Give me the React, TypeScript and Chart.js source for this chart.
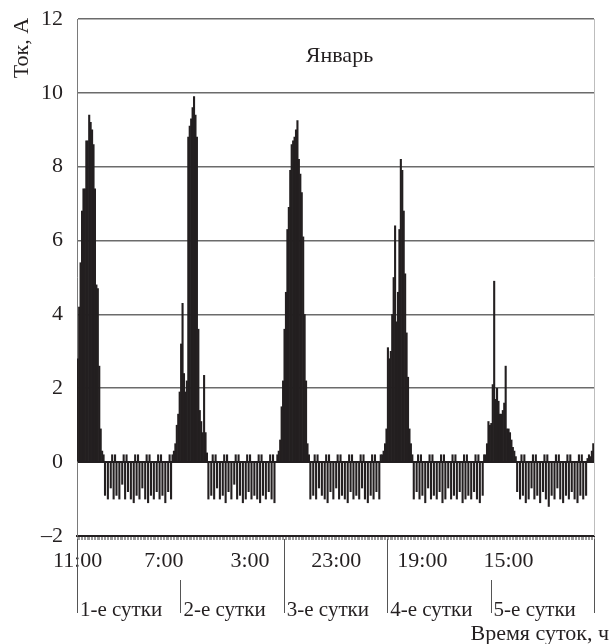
import React, { useEffect, useRef } from 'react';
import { Chart, registerables } from 'chart.js';

Chart.register(...registerables);

// 20-minute samples (3 per hour), starting 11:00 of day 1
const SAMPLES_PER_DAY = 72;
const START_HOUR = 11;
const START_MIN = 0;

const timeTickLabels = ['11:00', '7:00', '3:00', '23:00', '19:00', '15:00'];
const dayLabels = ['1-е сутки', '2-е сутки', '3-е сутки', '4-е сутки', '5-е сутки'];
const longSeparators = [true, false, true, true, false, true];

const day1Current = [
  2.8, 4.2, 5.4, 6.8, 7.4, 7.4, 8.7, 8.7, 9.4, 9.2, 9.0, 8.6, 7.4, 4.8, 4.7, 2.6, 0.9, 0.3, 0.2,
  -0.9, 0, -1.0, 0, -0.7, 0.2, -1.0, 0.2,
  -0.9, 0, -1.0, 0, -0.6, 0.2, -1.0, 0.2,
  -0.8, 0, -1.0, 0, -1.1, 0.2, -0.9, 0.2,
  -1.0, 0, -0.7, 0, -1.0, 0.2, -1.1, 0.2,
  -0.9, 0, -1.0, 0, -0.8, 0.2, -1.0, 0.2,
  -0.9, 0, -1.1, 0, -0.8, 0.2, -1.0, 0.2,
  0.3, 0.5, 1.0, 1.3, 1.9,
];

const day2Current = [
  3.2, 4.3, 2.4, 1.9, 2.2, 8.8, 9.1, 9.3, 9.6, 9.9, 9.4, 8.8, 3.6, 1.4, 1.1, 0.8, 2.35, 0.8, 0.25,
  -1.0, 0, -0.9, 0.2, -1.0, 0.2, -0.7, 0,
  -1.0, 0, -0.9, 0.2, -1.1, 0.2, -0.8, 0,
  -1.0, 0, -0.6, 0.2, -1.0, 0.2, -0.9, 0,
  -1.1, 0, -1.0, 0.2, -0.8, 0.2, -1.0, 0,
  -0.9, 0, -1.0, 0.2, -1.1, 0.2, -0.9, 0,
  -1.0, 0, -0.8, 0.2, -1.0, 0.2, -1.1, 0,
  0.2, 0.3, 0.6, 1.5, 2.2,
];

const day3Current = [
  3.6, 4.6, 6.3, 6.9, 7.9, 8.6, 8.7, 8.8, 9.0, 9.25, 8.2, 7.8, 7.3, 6.1, 4.0, 2.2, 0.5, 0.2,
  -1.0, 0, -0.9, 0.2, -1.0, 0.2, -0.7, 0,
  -0.9, 0, -1.0, 0.2, -1.1, 0.2, -0.8, 0,
  -1.0, 0, -0.7, 0.2, -1.0, 0.2, -0.9, 0,
  -1.0, 0, -1.1, 0.2, -0.8, 0.2, -1.0, 0,
  -0.9, 0, -1.0, 0.2, -0.7, 0.2, -1.0, 0,
  -1.1, 0, -0.9, 0.2, -1.0, 0.2, -0.8, 0,
  -1.0, 0.2,
  0.2, 0.3, 0.5, 0.9,
];

const day4Current = [
  3.1, 2.8, 3.0, 4.0, 5.0, 6.4, 3.8, 4.6, 6.3, 8.2, 7.9, 6.8, 5.1, 3.5, 2.3, 0.9, 0.5, 0.2,
  -1.0, 0, -0.8, 0.2, -1.0, 0.2, -0.9, 0,
  -1.1, 0, -0.7, 0.2, -1.0, 0.2, -0.9, 0,
  -1.0, 0, -0.8, 0.2, -1.1, 0.2, -1.0, 0,
  -0.7, 0, -1.0, 0.2, -0.9, 0.2, -1.0, 0,
  -0.8, 0, -1.1, 0.2, -1.0, 0.2, -0.9, 0,
  -1.0, 0, -0.8, 0.2, -1.0, 0.2, -1.1, 0,
  -0.9, 0.2,
  0.2, 0.5, 1.1, 1.0,
];

const day5Current = [
  1.05, 2.1, 4.9, 1.7, 2.0, 1.65, 1.3, 1.3, 1.4, 1.6, 2.6, 0.9, 0.9, 0.8, 0.6, 0.4, 0.3, 0.15,
  -0.8, 0, -1.0, 0.2, -0.9, 0.2, -1.1, 0,
  -1.0, 0, -0.7, 0.2, -1.0, 0.2, -0.9, 0,
  -1.1, 0, -0.8, 0.2, -1.0, 0.2, -1.2, 0,
  -0.9, 0, -1.0, 0.2, -0.7, 0.2, -1.0, 0,
  -1.1, 0, -0.9, 0.2, -1.0, 0.2, -0.8, 0,
  -1.0, 0, -1.1, 0.2, -0.9, 0.2, -1.0, 0,
  -0.9,
  0.1, 0.2, 0.15, 0.3, 0.5,
];

const current = [...day1Current, ...day2Current, ...day3Current, ...day4Current, ...day5Current];

const SAMPLE_MIN = (24 * 60) / SAMPLES_PER_DAY;
const TICK_EVERY = 60; // every 20 hours
const categories = current.map((_, i) => {
  const total = START_HOUR * 60 + START_MIN + i * SAMPLE_MIN;
  const h = Math.floor(total / 60) % 24;
  const m = total % 60;
  return `${h}:${m < 10 ? '0' + m : m}`;
});

const INK = '#231f20';
const FONT = '"Liberation Serif", "Times New Roman", serif';

const decorPlugin = {
  id: 'decor',
  afterDraw(chart: any) {
    const { ctx, chartArea: area, scales } = chart;
    const x = scales.x;
    const y = scales.y;
    const step = x.getPixelForValue(1) - x.getPixelForValue(0);
    const edge = (i: number) => x.getPixelForValue(0) - step / 2 + i * step;
    ctx.save();
    // right border
    ctx.strokeStyle = '#bdbdbd';
    ctx.lineWidth = 1;
    ctx.beginPath();
    ctx.moveTo(Math.round(area.right) + 0.5, area.top);
    ctx.lineTo(Math.round(area.right) + 0.5, area.bottom);
    ctx.stroke();

    // day separators
    ctx.strokeStyle = '#555';
    ctx.lineWidth = 1;
    for (let d = 0; d <= dayLabels.length; d++) {
      const px = Math.round(edge(d * SAMPLES_PER_DAY)) + 0.5;
      const y0 = longSeparators[d] ? area.bottom + 3 : 580;
      ctx.beginPath();
      ctx.moveTo(px, y0);
      ctx.lineTo(px, 613);
      ctx.stroke();
    }
    ctx.fillStyle = INK;
    ctx.font = `21px ${FONT}`;
    ctx.textAlign = 'left';
    ctx.textBaseline = 'alphabetic';
    dayLabels.forEach((lab, d) => {
      ctx.fillText(lab, edge(d * SAMPLES_PER_DAY) + 3, 616);
    });

    // axis titles
    ctx.font = `22px ${FONT}`;
    ctx.textAlign = 'right';
    ctx.fillText('Время суток, ч', 609, 640);

    ctx.save();
    ctx.translate(28, 48);
    ctx.rotate(-Math.PI / 2);
    ctx.textAlign = 'center';
    ctx.fillText('Ток, А', 0, 0);
    ctx.restore();

    // chart title
    ctx.textAlign = 'center';
    ctx.textBaseline = 'middle';
    ctx.fillText('Январь', (area.left + area.right) / 2 + 4, y.getPixelForValue(11));
    ctx.restore();
  },
};

export default function App() {
  const ref = useRef<HTMLCanvasElement | null>(null);
  useEffect(() => {
    if (!ref.current) return;
    const chart = new Chart(ref.current, {
      type: 'bar',
      data: {
        labels: categories,
        datasets: [
          {
            data: current,
            backgroundColor: INK,
            borderWidth: 0,
            barPercentage: 1,
            categoryPercentage: 1,
          },
        ],
      },
      options: {
        animation: false,
        responsive: false,
        layout: { padding: { top: 19, right: 16, left: 0, bottom: 0 } },
        plugins: { legend: { display: false }, tooltip: { enabled: false }, title: { display: false } },
        scales: {
          x: {
            type: 'category',
            afterFit(scale: any) {
              scale.height = 108;
              scale.paddingLeft = 0;
              scale.paddingRight = 0;
            },
            border: { display: true, color: INK, width: 2 },
            grid: {
              display: true,
              drawOnChartArea: false,
              drawTicks: true,
              tickLength: 4,
              color: '#9a9a9a',
              lineWidth: 1,
            },
            ticks: {
              autoSkip: false,
              maxRotation: 0,
              minRotation: 0,
              padding: 8,
              color: INK,
              font: { family: FONT, size: 22 },
              callback: (_v: any, i: number) => (i % TICK_EVERY === 0 ? timeTickLabels[i / TICK_EVERY] : ''),
            },
          },
          y: {
            min: -2,
            max: 12,
            afterFit(scale: any) {
              scale.width = 77;
              scale.paddingTop = 0;
              scale.paddingBottom = 0;
            },
            border: { display: true, color: '#7a7a7a', width: 1 },
            grid: {
              drawTicks: false,
              color: (c: any) => (c.tick && c.tick.value === 0 ? INK : '#6b6b6b'),
              lineWidth: (c: any) => (c.tick && c.tick.value === 0 ? 2 : 1.6),
            },
            ticks: {
              stepSize: 2,
              padding: 14,
              color: INK,
              font: { family: FONT, size: 22 },
              callback: (v: any) => (v < 0 ? '\u2013' + Math.abs(v) : String(v)),
            },
          },
        },
      },
      plugins: [decorPlugin],
    });
    return () => chart.destroy();
  }, []);
  return (
    <div style={{ position: 'fixed', left: 0, top: 0, width: 610, height: 644, background: '#fff' }}>
      <canvas ref={ref} width={610} height={644} />
    </div>
  );
}
